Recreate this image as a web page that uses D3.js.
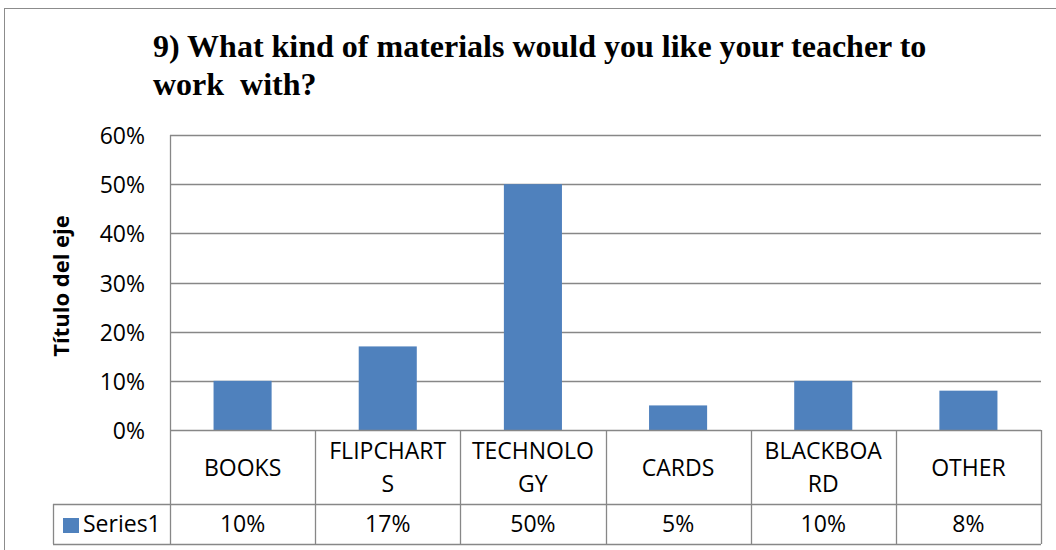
<!DOCTYPE html>
<html><head><meta charset="utf-8">
<script src="https://cdn.jsdelivr.net/npm/d3@7"></script>
<style>
body{margin:0;background:#fff}svg{display:block}
.ttl{font-family:"Liberation Serif","Times New Roman",Times,"DejaVu Serif","Noto Serif",serif;font-weight:bold;white-space:pre}
.lab{font-family:"Open Sans",Carlito,Lato,sans-serif}
</style>
</head><body><svg id="c" width="1056" height="550"></svg>
<script>
const categories = ["BOOKS","FLIPCHARTS","TECHNOLOGY","CARDS","BLACKBOARD","OTHER"];
const categoryLines = [["BOOKS"],["FLIPCHART","S"],["TECHNOLO","GY"],["CARDS"],["BLACKBOA","RD"],["OTHER"]];
const values = [0.10,0.17,0.50,0.05,0.10,0.08];
const valueLabels = ["10%","17%","50%","5%","10%","8%"];
const yTicks = [0,0.1,0.2,0.3,0.4,0.5,0.6];
const seriesName = "Series1";
const titleLines = ["9) What kind of materials would you like your teacher to","work  with?"];
const axisTitle = "Título del eje";

const svg = d3.select("#c");
const fs = 23;
const L=170, R=1041, T=135, B=430;
const gridColor="#878787";

svg.append("rect").attr("x",4.5).attr("y",8.5).attr("width",1060).attr("height",560)
  .attr("fill","#fff").attr("stroke","#8c8c8c");

const x = d3.scaleBand().domain(categories).range([L,R]).paddingInner(0.6).paddingOuter(0.3);
const xc = d3.scaleBand().domain(categories).range([L,R]);
const y = d3.scaleLinear().domain([0,0.6]).range([B,T]);

// gridlines
svg.append("g").selectAll("line").data(yTicks.filter(d=>d>0)).join("line")
  .attr("x1",L).attr("x2",R).attr("y1",d=>Math.round(y(d))+0.5).attr("y2",d=>Math.round(y(d))+0.5)
  .attr("stroke",gridColor).attr("stroke-width",1.3);
svg.append("line").attr("x1",L+0.5).attr("x2",L+0.5).attr("y1",T).attr("y2",B).attr("stroke",gridColor).attr("stroke-width",1.3);

// y tick labels
svg.append("g").selectAll("text").data(yTicks).join("text").attr("class","lab")
  .attr("x",145).attr("y",d=>y(d)+9).attr("text-anchor","end")
  .attr("font-size",fs).attr("fill","#000")
  .text(d3.format(".0%"));

// bars
svg.append("g").selectAll("rect").data(values).join("rect")
  .attr("x",(d,i)=>x(categories[i])).attr("width",x.bandwidth())
  .attr("y",d=>y(d)).attr("height",d=>B-y(d)).attr("fill","#4F81BD");

// data table
const rowMid = 504, rowBot = 544, tLeft = 53;
const tg = svg.append("g").attr("stroke",gridColor).attr("stroke-width",1.3).attr("fill","none");
tg.append("line").attr("x1",L).attr("x2",R).attr("y1",B+0.5).attr("y2",B+0.5);
tg.append("line").attr("x1",tLeft).attr("x2",R).attr("y1",rowMid+0.5).attr("y2",rowMid+0.5);
tg.append("line").attr("x1",tLeft).attr("x2",R).attr("y1",rowBot+0.5).attr("y2",rowBot+0.5);
tg.append("line").attr("x1",tLeft+0.5).attr("x2",tLeft+0.5).attr("y1",rowMid).attr("y2",rowBot);
tg.selectAll("line.v").data(categories.concat(["_end"])).join("line").attr("class","v")
  .attr("x1",(d,i)=>Math.round(L+i*xc.step())+0.5).attr("x2",(d,i)=>Math.round(L+i*xc.step())+0.5)
  .attr("y1",B).attr("y2",rowBot);

// category labels
const cg = svg.append("g").attr("class","lab").attr("font-size",fs).attr("fill","#000").attr("text-anchor","middle");
categoryLines.forEach((lines,i)=>{
  const cx = xc(categories[i]) + xc.bandwidth()/2;
  const t = cg.append("text").attr("x",cx);
  if(lines.length===1){ t.append("tspan").attr("x",cx).attr("y",476).text(lines[0]); }
  else { lines.forEach((ln,j)=>t.append("tspan").attr("x",cx).attr("y",459+j*32.5).text(ln)); }
});
// values
svg.append("g").selectAll("text").data(valueLabels).join("text").attr("class","lab")
  .attr("x",(d,i)=>xc(categories[i])+xc.bandwidth()/2).attr("y",532)
  .attr("text-anchor","middle").attr("font-size",fs).attr("fill","#000").text(d=>d);
// legend
svg.append("rect").attr("x",63).attr("y",518).attr("width",16).attr("height",15).attr("fill","#4F81BD");
svg.append("text").attr("class","lab").attr("x",83).attr("y",532).attr("font-size",fs).attr("fill","#000").text(seriesName);

// title
svg.append("g").selectAll("text").data(titleLines).join("text").attr("class","ttl")
  .attr("x",153).attr("y",(d,i)=>57+i*38)
  .attr("font-size",32).attr("fill","#000").text(d=>d);

// axis title
svg.append("text").attr("class","lab").attr("transform","translate(69,286) rotate(-90)").attr("text-anchor","middle")
  .attr("font-weight","bold").attr("font-size",22).attr("fill","#000").text(axisTitle);
</script></body></html>
